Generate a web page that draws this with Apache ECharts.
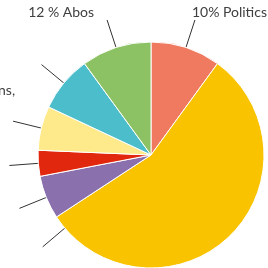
<!DOCTYPE html>
<html>
<head>
<meta charset="utf-8">
<script src="https://cdn.jsdelivr.net/npm/echarts@6/dist/echarts.min.js"></script>
<style>
html, body { margin: 0; padding: 0; background: #fff; }
#chart { width: 268px; height: 268px; }
</style>
</head>
<body>
<div id="chart"></div>
<script>
// slices, clockwise from 12 o'clock
var categories = ['Politics', 'Society', 'Culture', 'Economy', 'Migrations', 'Science', 'Abos'];
var values = [10, 55.7, 6.2, 3.7, 6.3, 8, 10];
var labelTexts = ['10% Politics', '56 % Society', '6 % Culture', '4 % Economy', '6 % Migrations,', '8 % Science', '12 % Abos'];
var colors = ['#EF7A5F', '#F9C300', '#8B70AE', '#E1280F', '#FEEA8A', '#4BBDCB', '#8CC263'];

var CX = 151, CY = 155, R = 113, LINE = 29;
// nudges so labels sit like in the picture (left ones run off the edge)
var labelShift = [[-8, -7], [0, 0], [-40, 0], [-12, 0], [7, -31], [-45, 0], [-8, -7]];
// the big slice has its leader dragged near its end
var bigLeaderAngle = 229.7;

var chart = echarts.init(document.getElementById('chart'));

var data = [];
for (var i = 0; i < values.length; i++) {
	data.push({ name: categories[i], value: values[i], itemStyle: { color: colors[i] } });
}

var option = {
	animation: false,
	series: [{
		type: 'pie',
		// wide viewport so the pie layout does not squeeze the left labels
		left: -400, right: -400, top: 0, bottom: 0,
		center: [CX + 400, CY],
		radius: R,
		startAngle: 90,
		clockwise: true,
		avoidLabelOverlap: false,
		data: data,
		itemStyle: { borderColor: '#fff', borderWidth: 1 },
		label: {
			show: true,
			formatter: function (p) { return labelTexts[p.dataIndex]; },
			fontFamily: 'Lato',
			fontSize: 14,
			color: '#404040',
			overflow: 'none',
			distanceToLabelLine: 5
		},
		labelLine: {
			show: true,
			length: LINE,
			length2: 0,
			smooth: false,
			lineStyle: { color: '#333', width: 1 }
		},
		labelLayout: function (p) {
			var i = p.dataIndex;
			if (i === 1) {
				var a = bigLeaderAngle * Math.PI / 180;
				var p0 = [CX + R * Math.sin(a), CY - R * Math.cos(a)];
				var p1 = [CX + (R + LINE) * Math.sin(a), CY - (R + LINE) * Math.cos(a)];
				return { x: p1[0] - 60, y: p1[1], align: 'right', verticalAlign: 'middle', labelLinePoints: [p0, p1, p1] };
			}
			return { dx: labelShift[i][0], dy: labelShift[i][1], labelLinePoints: p.labelLinePoints };
		},
		emphasis: { disabled: true }
	}]
};

chart.setOption(option);
</script>
</body>
</html>
